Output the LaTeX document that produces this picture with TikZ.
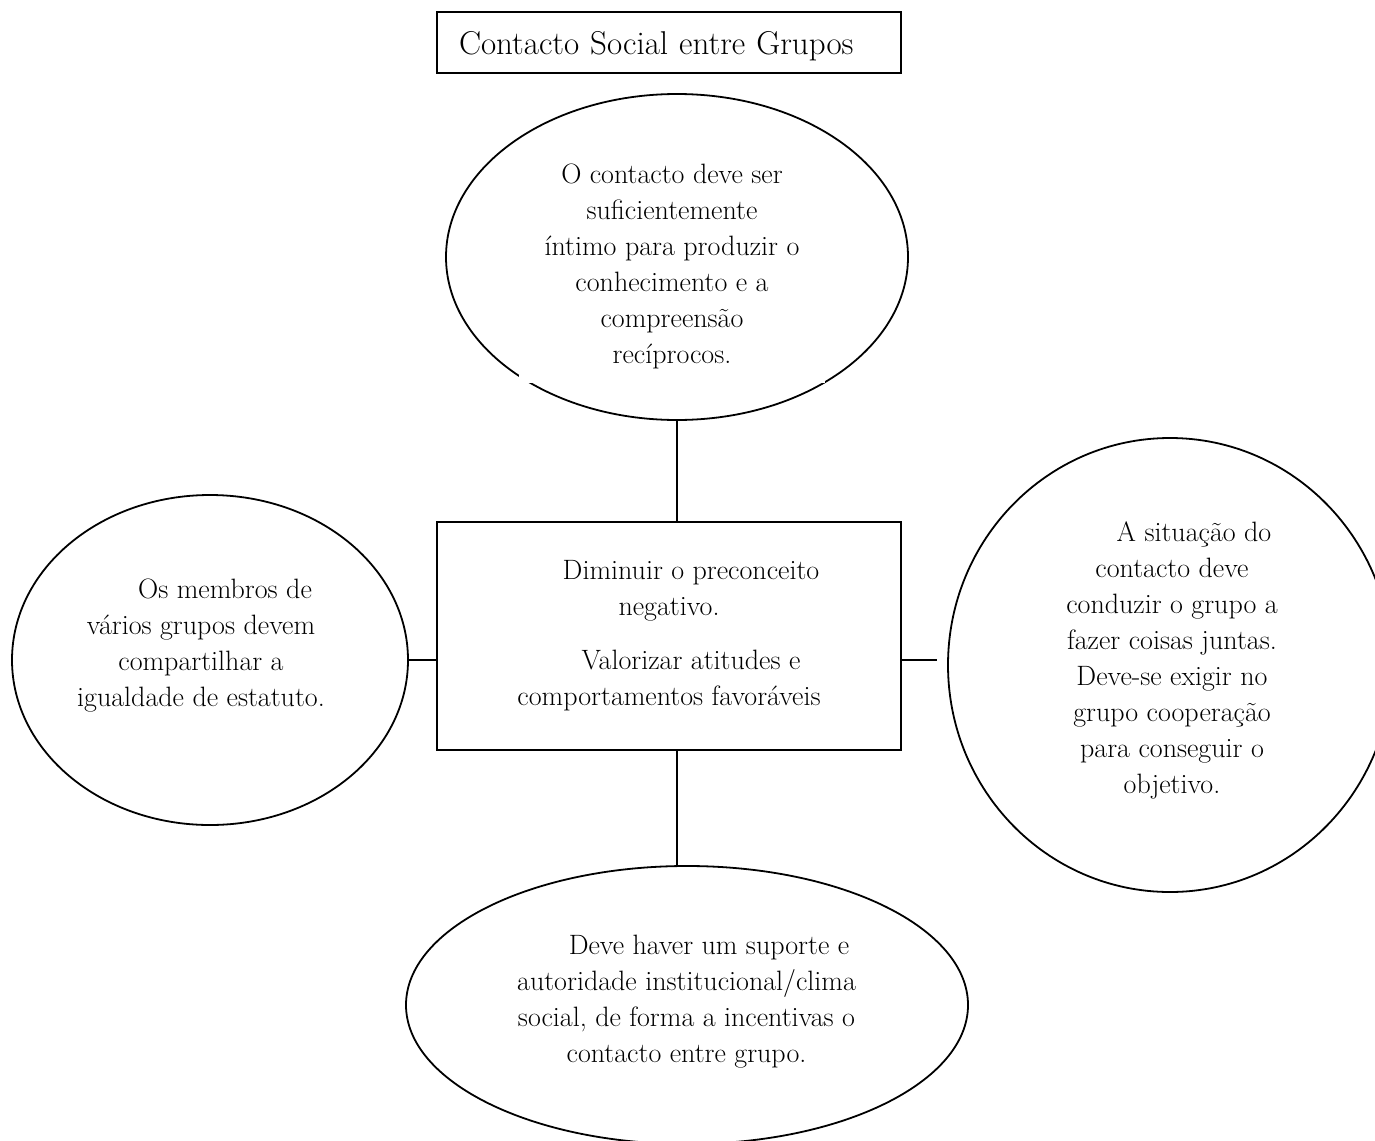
\documentclass[tikz,border=0pt]{standalone}
\usepackage{fontspec}
\usetikzlibrary{shapes.geometric}
\tikzset{
  bubble/.style={draw, ellipse, line width=1.8pt, inner sep=0pt},
  panel/.style={draw, rectangle, line width=1.8pt},
  words/.style={font=\fontsize{28}{36}\selectfont, align=center, inner sep=0pt},
  link/.style={line width=1.8pt}
}
\begin{document}
\begin{tikzpicture}[x=1pt,y=-1pt]
  \useasboundingbox (0,0) rectangle (1375,1140);
  \clip (0,0) rectangle (1375,1140);
  % heading box
  \node[panel, minimum width=464pt, minimum height=61pt, inner xsep=22pt, text width=420pt, align=left,
        font=\fontsize{33}{36}\selectfont, text height=27pt, text depth=2pt] (heading) at (669,42.5) {Contacto Social entre Grupos};

  % ellipses and their texts
  \node[bubble, minimum width=462pt, minimum height=326pt] (ctop) at (677,257) {};
  \node[words, fill=white, minimum width=306pt, minimum height=233pt] (ctoptext) at (672,266.5)
    {O contacto deve ser\\suficientemente\\íntimo para produzir o\\conhecimento e a\\compreensão\\recíprocos.};
  \node[bubble, minimum width=396pt, minimum height=330pt] (cleft) at (210,660) {};
  \node[words] (clefttext) at (201,645.5)
    {\hspace*{48pt}Os membros de\\vários grupos devem\\compartilhar a\\igualdade de estatuto.};
  \node[bubble, minimum width=444pt, minimum height=454pt] (cright) at (1170,665) {};
  \node[words] (crighttext) at (1172,660)
    {\hspace*{44pt}A situação do\\contacto deve\\conduzir o grupo a\\fazer coisas juntas.\\Deve-se exigir no\\grupo cooperação\\para conseguir o\\objetivo.};
  \node[bubble, minimum width=562pt, minimum height=278pt] (cbottom) at (687,1005) {};
  \node[words] (cbottomtext) at (686.5,1001.5)
    {\hspace*{45pt}Deve haver um suporte e\\autoridade institucional/clima\\social, de forma a incentivas o\\contacto entre grupo.};

  % centre box
  \node[panel, words, minimum width=464pt, minimum height=228pt] (core) at (669,636)
    {\hspace*{44pt}Diminuir o preconceito\\negativo.\\[18pt]\hspace*{44pt}Valorizar atitudes e\\comportamentos favoráveis};

  % connectors
  \coordinate (rjoin) at (937,660);
  \draw[link] (ctop.south) -- (ctop.south |- core.north);
  \draw[link] (ctop.south |- core.south) -- (ctop.south |- cbottom.north);
  \draw[link] (cleft.east) -- (cleft.east -| core.west);
  \draw[link] (core.east |- rjoin) -- (rjoin);
\end{tikzpicture}
\end{document}
